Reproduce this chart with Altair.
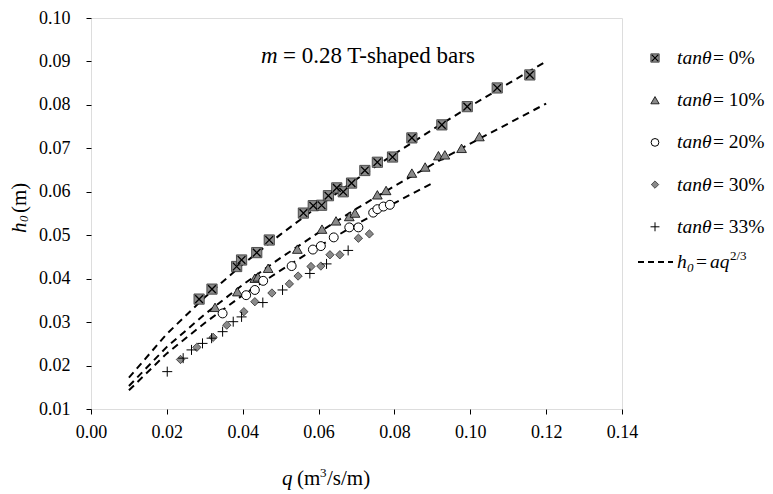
import altair as alt
import pandas as pd

FONT = "Liberation Serif"

# ---- data ----
q_t0 = [0.0285, 0.0319, 0.0384, 0.0397, 0.0437, 0.0470, 0.0560, 0.0586, 0.0608, 0.0626, 0.0648,
        0.0665, 0.0687, 0.0722, 0.0755, 0.0795, 0.0846, 0.0925, 0.0992, 0.1071, 0.1157]
h_t0 = [0.0353, 0.0376, 0.0428, 0.0443, 0.0460, 0.0489, 0.0551, 0.0568, 0.0569, 0.0591, 0.0609,
        0.0600, 0.0620, 0.0649, 0.0668, 0.0680, 0.0724, 0.0754, 0.0796, 0.0839, 0.0869]

q_t10 = [0.0327, 0.0386, 0.0432, 0.0440, 0.0467, 0.0544, 0.0609, 0.0646, 0.0681, 0.0696, 0.0755,
         0.0778, 0.0846, 0.0881, 0.0916, 0.0933, 0.0977, 0.1024]
h_t10 = [0.0334, 0.0370, 0.0401, 0.0404, 0.0424, 0.0468, 0.0514, 0.0533, 0.0543, 0.0551, 0.0593,
         0.0603, 0.0643, 0.0657, 0.0683, 0.0685, 0.0700, 0.0727]

q_t20 = [0.0347, 0.0409, 0.0432, 0.0454, 0.0529, 0.0585, 0.0606, 0.0640, 0.0681, 0.0705, 0.0744,
         0.0755, 0.0771, 0.0788]
h_t20 = [0.0320, 0.0362, 0.0374, 0.0395, 0.0429, 0.0467, 0.0475, 0.0495, 0.0518, 0.0518, 0.0552,
         0.0560, 0.0566, 0.0570]

q_t30 = [0.0236, 0.0279, 0.0322, 0.0358, 0.0403, 0.0432, 0.0477, 0.0523, 0.0546, 0.0580, 0.0606,
         0.0630, 0.0656, 0.0705, 0.0734]
h_t30 = [0.0214, 0.0242, 0.0265, 0.0293, 0.0324, 0.0347, 0.0367, 0.0388, 0.0406, 0.0428, 0.0429,
         0.0455, 0.0455, 0.0493, 0.0503]

q_t33 = [0.0201, 0.0243, 0.0265, 0.0294, 0.0318, 0.0347, 0.0375, 0.0397, 0.0453, 0.0505, 0.0577,
         0.0621, 0.0678]
h_t33 = [0.0186, 0.0217, 0.0236, 0.0251, 0.0263, 0.0278, 0.0301, 0.0312, 0.0345, 0.0374, 0.0412,
         0.0434, 0.0465]

# fitted curves h0 = a q^(2/3)
fit_q1 = [0.01, 0.02, 0.03, 0.04, 0.05, 0.06, 0.07, 0.08, 0.09, 0.10, 0.11, 0.12]
fit_h1 = [0.0172, 0.0273, 0.0357, 0.0433, 0.0502, 0.0567, 0.0629, 0.0687, 0.0743, 0.0797, 0.0849, 0.0900]
fit_q2 = [0.01, 0.02, 0.03, 0.04, 0.05, 0.06, 0.07, 0.08, 0.09, 0.10, 0.11, 0.12]
fit_h2 = [0.0153, 0.0243, 0.0318, 0.0386, 0.0448, 0.0506, 0.0561, 0.0613, 0.0663, 0.0711, 0.0757, 0.0803]
fit_q3 = [0.01, 0.02, 0.03, 0.04, 0.05, 0.06, 0.07, 0.08, 0.09]
fit_h3 = [0.0143, 0.0228, 0.0298, 0.0362, 0.0419, 0.0474, 0.0525, 0.0574, 0.0620]

x_ticks = [0.00, 0.02, 0.04, 0.06, 0.08, 0.10, 0.12, 0.14]
y_ticks = [0.01, 0.02, 0.03, 0.04, 0.05, 0.06, 0.07, 0.08, 0.09, 0.10]
legend_labels = ["= 0%", "= 10%", "= 20%", "= 30%", "= 33%"]

GRAY = "#8a8a8a"
W, H = 531, 391

X = alt.X("q:Q", scale=alt.Scale(domain=[0, 0.14], nice=False, zero=False),
          axis=alt.Axis(values=x_ticks, format=".2f", title=None, grid=False, domain=False,
                        tickColor="black", tickSize=5, tickWidth=1, labelFont=FONT, labelFontSize=18,
                        labelColor="black", labelPadding=9, labelFlush=False))
Y = alt.Y("h:Q", scale=alt.Scale(domain=[0.01, 0.10], nice=False, zero=False),
          axis=alt.Axis(values=y_ticks, format=".2f", title=None, grid=False, domain=False,
                        tickColor="black", tickSize=5, tickWidth=1, labelFont=FONT, labelFontSize=18,
                        labelColor="black", labelPadding=16, labelFlush=False))


def df(q, h):
    return pd.DataFrame({"q": q, "h": h})


layers = []
for fq, fh in [(fit_q1, fit_h1), (fit_q2, fit_h2), (fit_q3, fit_h3)]:
    layers.append(alt.Chart(df(fq, fh)).mark_line(color="black", strokeWidth=2, strokeDash=[7, 5])
                  .encode(x=X, y=Y, order="q:Q"))

XPATH = "M-0.75,-0.75L0.75,0.75M-0.75,0.75L0.75,-0.75"
PLUS = "M-1,0L1,0M0,-1L0,1"

sq = alt.Chart(df(q_t0, h_t0))
layers.append(sq.mark_point(shape="square", filled=True, fill=GRAY, stroke="#333333", strokeWidth=0.8, size=105, opacity=1).encode(x=X, y=Y))
layers.append(sq.mark_point(shape=XPATH, filled=False, stroke="black", strokeWidth=1.3, size=105, opacity=1).encode(x=X, y=Y))
layers.append(alt.Chart(df(q_t10, h_t10)).mark_point(shape="triangle-up", filled=True, fill=GRAY, stroke="black", strokeWidth=0.8, size=95, opacity=1).encode(x=X, y=Y))
layers.append(alt.Chart(df(q_t20, h_t20)).mark_point(shape="circle", filled=True, fill="white", stroke="black", strokeWidth=1, size=80, opacity=1).encode(x=X, y=Y))
layers.append(alt.Chart(df(q_t30, h_t30)).mark_point(shape="diamond", filled=True, fill=GRAY, stroke="black", strokeWidth=0.6, size=70, opacity=1).encode(x=X, y=Y))
layers.append(alt.Chart(df(q_t33, h_t33)).mark_point(shape=PLUS, filled=False, stroke="black", strokeWidth=1, size=100, opacity=1).encode(x=X, y=Y))

one = pd.DataFrame({"a": [0]})


def txt(s, x, y, size=20, italic=False, angle=0, baseline="alphabetic", align="left"):
    kw = dict(text=s, font=FONT, fontSize=size, align=align, baseline=baseline, color="black")
    if italic:
        kw["fontStyle"] = "italic"
    if angle:
        kw["angle"] = angle
    return alt.Chart(one).mark_text(**kw).encode(x=alt.value(x), y=alt.value(y))


# annotation
layers.append(txt("m", 170, 45, size=23, italic=True))
layers.append(txt("= 0.28 T-shaped bars", 192, 45, size=23))

# x title
layers.append(txt("q", 191, 467, size=21, italic=True))
layers.append(txt("(m", 206, 467, size=21))
layers.append(txt("3", 229, 459, size=13))
layers.append(txt("/s/m)", 236, 467, size=21))

# y title (rotated)
layers.append(txt("h", -71, 215, size=21, italic=True, angle=270, baseline="middle"))
layers.append(txt("0", -67, 204, size=13, italic=True, angle=270, baseline="middle"))
layers.append(txt("(m)", -71, 195, size=21, angle=270, baseline="middle"))

# legend
LS = 19.5
MX, TX = 564, 586
rows = [40 + 42.2 * i for i in range(5)]
mk = alt.Chart(one)
layers.append(mk.mark_point(shape="square", filled=True, fill=GRAY, stroke="#333333", strokeWidth=0.8, size=70, opacity=1).encode(x=alt.value(MX), y=alt.value(rows[0])))
layers.append(mk.mark_point(shape=XPATH, filled=False, stroke="black", strokeWidth=1.2, size=70, opacity=1).encode(x=alt.value(MX), y=alt.value(rows[0])))
layers.append(mk.mark_point(shape="triangle-up", filled=True, fill=GRAY, stroke="black", strokeWidth=0.8, size=70, opacity=1).encode(x=alt.value(MX), y=alt.value(rows[1])))
layers.append(mk.mark_point(shape="circle", filled=True, fill="white", stroke="black", strokeWidth=1, size=60, opacity=1).encode(x=alt.value(MX), y=alt.value(rows[2])))
layers.append(mk.mark_point(shape="diamond", filled=True, fill=GRAY, stroke="black", strokeWidth=0.6, size=55, opacity=1).encode(x=alt.value(MX), y=alt.value(rows[3])))
layers.append(mk.mark_point(shape=PLUS, filled=False, stroke="black", strokeWidth=1, size=80, opacity=1).encode(x=alt.value(MX), y=alt.value(rows[4])))
for i, lab in enumerate(legend_labels):
    layers.append(txt("tanθ", TX, rows[i], size=LS, italic=True, baseline="middle"))
    layers.append(txt(lab, TX + 36, rows[i], size=LS, baseline="middle"))

LY = 244
layers.append(alt.Chart(one).mark_rule(color="black", strokeWidth=2, strokeDash=[6, 4])
              .encode(x=alt.value(547), x2=alt.value(582), y=alt.value(LY)))
layers.append(txt("h", TX, LY + 6, size=LS, italic=True))
layers.append(txt("0", TX + 10, LY + 10, size=13, italic=True))
layers.append(txt("=", TX + 19, LY + 6, size=LS))
layers.append(txt("aq", TX + 33, LY + 6, size=LS, italic=True))
layers.append(txt("2/3", TX + 53, LY - 2, size=13))

chart = alt.layer(*layers).properties(
    width=W, height=H,
    autosize=alt.AutoSizeParams(type="none"),
    padding={"left": 83, "top": 10, "right": 143, "bottom": 84},
).configure_view(stroke="black", strokeWidth=2.5).configure(background="white")

chart.save("out.html", embed_options={"renderer": "svg", "actions": False})
